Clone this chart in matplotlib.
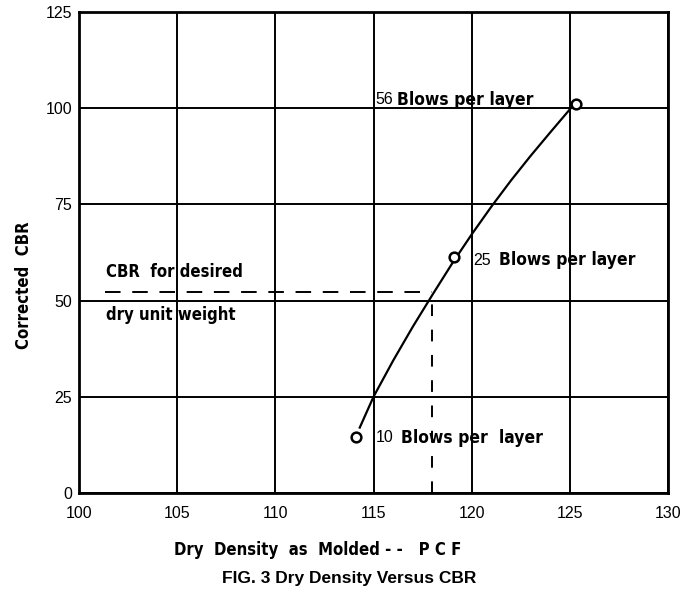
import matplotlib
matplotlib.use("Agg")
import matplotlib.pyplot as plt

# Data
point_x = [114.1, 119.1, 125.3]
point_y = [14.5, 61.3, 101.0]
point_labels = [("10", "Blows per  layer"), ("25", "Blows per layer"), ("56", "Blows per layer")]

curve_x = [114.3, 115.0, 116.0, 117.0, 118.0, 119.0, 120.0, 121.0, 122.0, 123.0, 124.0, 125.0]
curve_y = [17.0, 25.0, 34.4, 43.2, 51.5, 59.6, 67.2, 74.4, 81.2, 87.6, 93.7, 99.7]

desired_cbr = 52.3
desired_density = 118.0
dash_start_x = 101.3

x_ticks = [100, 105, 110, 115, 120, 125, 130]
y_ticks = [0, 25, 50, 75, 100, 125]

fig = plt.figure(figsize=(6.99, 5.94), dpi=100)
ax = fig.add_axes([79/699, 1 - 493/594, (668-79)/699, (493-12)/594])
ax.set_xlim(100, 130)
ax.set_ylim(0, 125)
ax.set_xticks(x_ticks)
ax.set_yticks(y_ticks)
ax.set_xticklabels([str(v) for v in x_ticks], fontsize=11.5, family="Liberation Sans")
ax.set_yticklabels([str(v) for v in y_ticks], fontsize=11.5, family="Liberation Sans")
ax.tick_params(length=0)
ax.tick_params(axis='y', pad=5)
ax.tick_params(axis='x', pad=9)
ax.grid(True, color="black", linewidth=1.4)
for s in ax.spines.values():
    s.set_linewidth(2.0)
ax.set_axisbelow(True)

# curve
ax.plot(curve_x, curve_y, color="black", linewidth=1.6, zorder=3, solid_joinstyle="round")
ax.plot(point_x, point_y, linestyle="none", marker="o", markersize=7,
        markerfacecolor="white", markeredgecolor="black", markeredgewidth=1.8, zorder=4)

# dashed construction lines
ax.plot([dash_start_x, desired_density], [desired_cbr, desired_cbr], color="black",
        linewidth=1.4, dashes=(8, 6), zorder=3)
ax.plot([desired_density, desired_density], [0, desired_cbr], color="black",
        linewidth=1.4, dashes=(6, 7), zorder=3)

cond = dict(fontweight="bold", family="DejaVu Sans", fontstretch="condensed")

# labels
num_off = [(115.1, 14.3), (120.1, 60.5), (115.1, 102.2)]
word_off = [116.4, 121.4, 116.2]
for (num, words), (tx, ty), wx in zip(point_labels, num_off, word_off):
    ax.text(tx, ty, num, fontsize=11.5, family="Liberation Sans", va="center", ha="left", zorder=5)
    ax.text(wx, ty, words, fontsize=12.5, va="center", ha="left", zorder=5, **cond)

ax.text(101.4, 57.4, "CBR  for desired", fontsize=12, va="center", ha="left", **cond)
ax.text(101.4, 46.2, "dry unit weight", fontsize=12, va="center", ha="left", **cond)

fig.text(24/699, 1 - 285/594, "Corrected  CBR", rotation=90, fontsize=12,
         ha="center", va="center", **cond)
fig.text(318/699, 1 - 550/594, "Dry  Density  as  Molded - -   P C F", fontsize=12,
         ha="center", va="center", **cond)
fig.text(349/699, 1 - 578/594, "FIG. 3 Dry Density Versus CBR", fontsize=12.5,
         fontweight="bold", family="Liberation Sans", ha="center", va="center")

fig.savefig("out.png", dpi=100)
